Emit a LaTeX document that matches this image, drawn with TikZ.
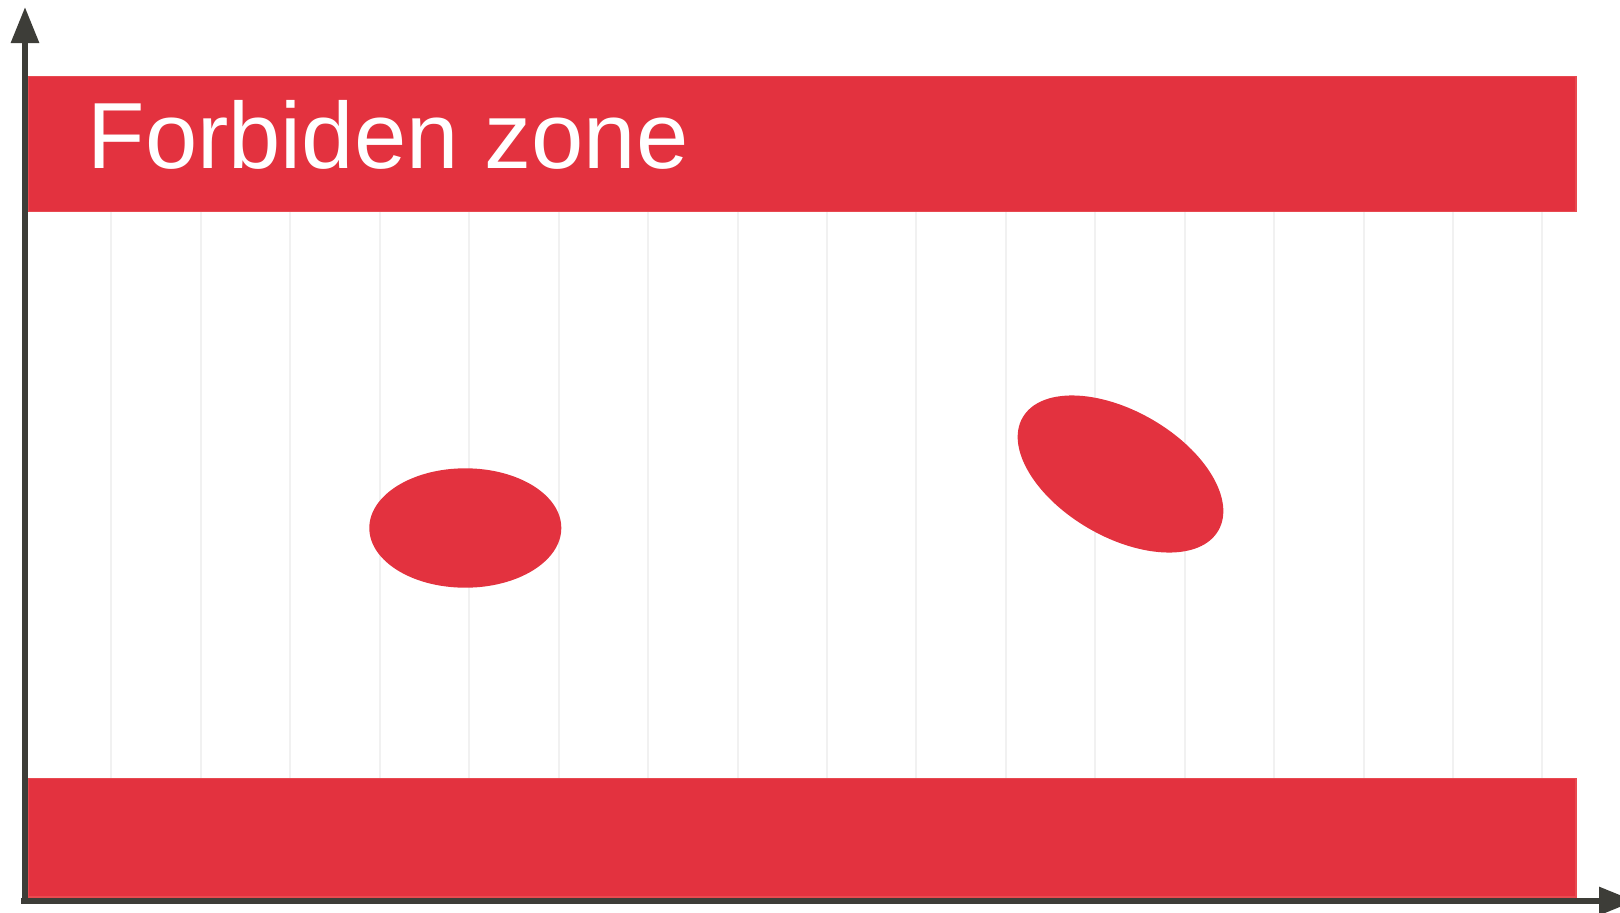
\documentclass[tikz,border=0pt]{standalone}
\usepackage{fontspec}
\setmainfont{Liberation Sans}
\usetikzlibrary{arrows.meta}
\definecolor{zonered}{HTML}{E3323F}
\definecolor{zoneedge}{HTML}{E84A50}
\definecolor{axisgray}{HTML}{3D3D38}
\definecolor{gridgray}{HTML}{F1F1F1}
\tikzset{
  gridline/.style={draw=gridgray, line width=2pt},
  band/.style={fill=zonered, draw=zoneedge, line width=1.5pt},
  blob/.style={fill=zonered},
  axisline/.style={draw=axisgray, line width=6pt, -{Triangle[length=36pt,width=27pt]}},
  zonelabel/.style={text=white, inner sep=0pt, anchor=base west, font=\fontsize{94}{94}\selectfont}
}
\begin{document}
\begin{tikzpicture}[x=1pt,y=-1pt]
\useasboundingbox (0,0) rectangle (1620,913);
\clip (0,0) rectangle (1620,913);
% grid
\foreach \k in {1,...,17}{
  \draw[gridline] ({22+89.44*\k},212) -- ({22+89.44*\k},778);
}
% bands
\path[band] (28,76.5) rectangle (1576,211.5);
\path[band] (28,778.5) rectangle (1576,897);
\node[zonelabel] (label) at (87.5,168.5) {Forbiden zone};
% obstacles
\fill[blob] (465.3,528) ellipse [x radius=96, y radius=59.7];
\fill[blob, rotate around={-30:(1120.5,474)}] (1120.5,474) ellipse [x radius=113, y radius=63];
% axes
\coordinate (origin) at (25,904);
\coordinate (ytip) at (25,7);
\coordinate (xstart) at (21,901);
\coordinate (xtip) at (1635,901);
\draw[axisline] (xstart) -- (xtip);
\draw[axisline] (origin) -- (ytip);
\end{tikzpicture}
\end{document}
